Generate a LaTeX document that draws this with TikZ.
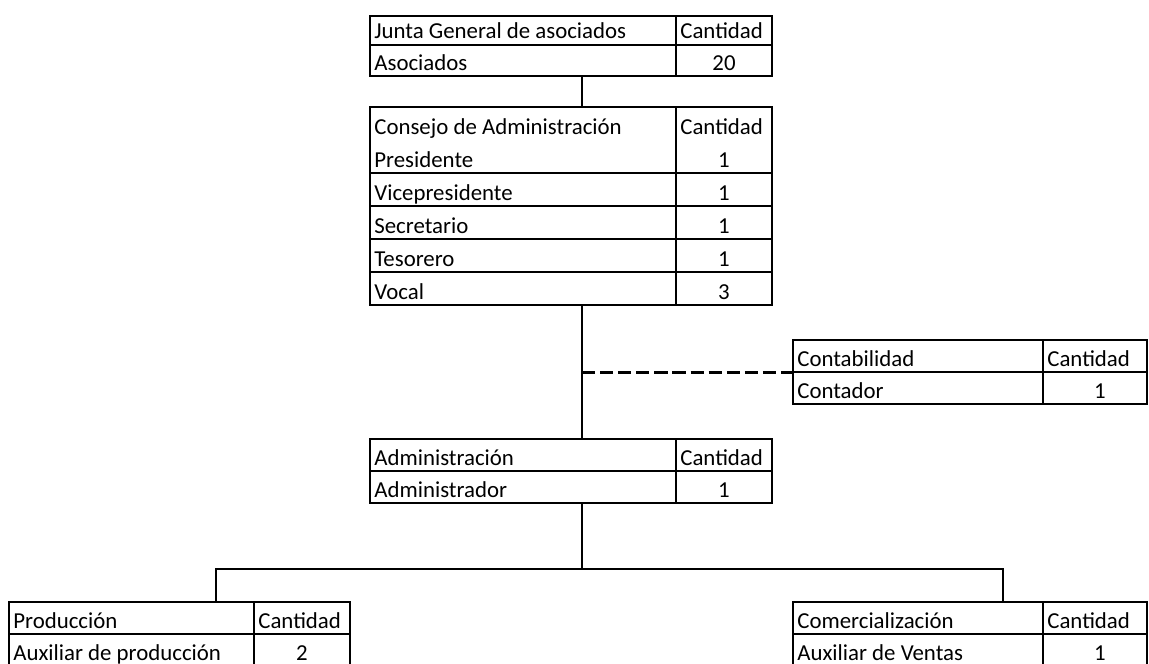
\documentclass[tikz,border=0pt]{standalone}
\usepackage{fontspec}
\setmainfont{Carlito}

\tikzset{
	tbl/.style={draw, line width=1.1pt, inner sep=0pt},
	cellline/.style={line width=1.1pt},
	txt/.style={anchor=base west, inner sep=0pt},
	num/.style={anchor=base, inner sep=0pt},
	conn/.style={line width=1.6pt},
	branch/.style={line width=0.9pt},
	dashline/.style={line width=1.7pt, dash pattern=on 7.5pt off 2.8pt}
}

\begin{document}
\begin{tikzpicture}[x=0.02cm, y=-0.02cm, font=\fontsize{13pt}{15pt}\selectfont]
	\clip (0,0) rectangle (1149,663);
	\fill[white] (0,0) rectangle (1149,663);

	% tables
	\node[tbl, minimum width=8.04cm, minimum height=1.2cm] (junta) at (571,46) {};
	\node[tbl, minimum width=8.04cm, minimum height=3.96cm] (consejo) at (571,206) {};
	\node[tbl, minimum width=7.08cm, minimum height=1.28cm] (contab) at (970,372) {};
	\node[tbl, minimum width=8.04cm, minimum height=1.28cm] (admin) at (571,471) {};
	\node[tbl, minimum width=6.82cm, minimum height=1.28cm] (prod) at (179.5,634) {};
	\node[tbl, minimum width=7.08cm, minimum height=1.28cm] (comer) at (970,634) {};

	% cell lines
	\draw[cellline] (676,16) -- (676,76) (370,45) -- (772,45);
	\draw[cellline] (676,107) -- (676,305);
	\foreach \y in {173,206,239,272} \draw[cellline] (370,\y) -- (772,\y);
	\draw[cellline] (1043,340) -- (1043,404) (793,372) -- (1147,372);
	\draw[cellline] (676,439) -- (676,503) (370,471) -- (772,471);
	\draw[cellline] (254,602) -- (254,666) (9,634) -- (350,634);
	\draw[cellline] (1043,602) -- (1043,666) (793,634) -- (1147,634);

	% texts
	\node[txt] (juntaTit) at (374,38) {Junta General de asociados};
	\node[txt] (juntaCant) at (680,38) {Cantidad};
	\node[txt] (asociados) at (374,70) {Asociados};
	\node[num] (asociadosN) at (724,70) {20};

	\node[txt] (consejoTit) at (374,134) {Consejo de Administración};
	\node[txt] (consejoCant) at (680,134) {Cantidad};
	\node[txt] (presidente) at (374,167) {Presidente};
	\node[num] (presidenteN) at (724,167) {1};
	\node[txt] (vice) at (374,200) {Vicepresidente};
	\node[num] (viceN) at (724,200) {1};
	\node[txt] (secretario) at (374,233) {Secretario};
	\node[num] (secretarioN) at (724,233) {1};
	\node[txt] (tesorero) at (374,266) {Tesorero};
	\node[num] (tesoreroN) at (724,266) {1};
	\node[txt] (vocal) at (374,299) {Vocal};
	\node[num] (vocalN) at (724,299) {3};

	\node[txt] (contabTit) at (797,366) {Contabilidad};
	\node[txt] (contabCant) at (1047,366) {Cantidad};
	\node[txt] (contador) at (797,398) {Contador};
	\node[num] (contadorN) at (1100,398) {1};

	\node[txt] (adminTit) at (374,465) {Administración};
	\node[txt] (adminCant) at (680,465) {Cantidad};
	\node[txt] (administrador) at (374,497) {Administrador};
	\node[num] (administradorN) at (724,497) {1};

	\node[txt] (prodTit) at (13,628) {Producción};
	\node[txt] (prodCant) at (258,628) {Cantidad};
	\node[txt] (auxprod) at (13,660) {Auxiliar de producción};
	\node[num] (auxprodN) at (302,660) {2};

	\node[txt] (comerTit) at (797,628) {Comercialización};
	\node[txt] (comerCant) at (1047,628) {Cantidad};
	\node[txt] (auxventas) at (797,660) {Auxiliar de Ventas};
	\node[num] (auxventasN) at (1100,660) {1};

	% connectors
	\coordinate (spine) at (582,0);
	\coordinate (fork) at (582,569);
	\coordinate (prodtop) at (216,602);
	\coordinate (comertop) at (1003,602);
	\draw[conn] (junta.south -| spine) -- (consejo.north -| spine);
	\draw[conn] (consejo.south -| spine) -- (admin.north -| spine);
	\draw[dashline] (contab.west -| spine) -- (contab.west);
	\draw[conn] (admin.south -| spine) -- (fork);
	\draw[branch] (prodtop) |- (fork) -| (comertop);
\end{tikzpicture}
\end{document}
